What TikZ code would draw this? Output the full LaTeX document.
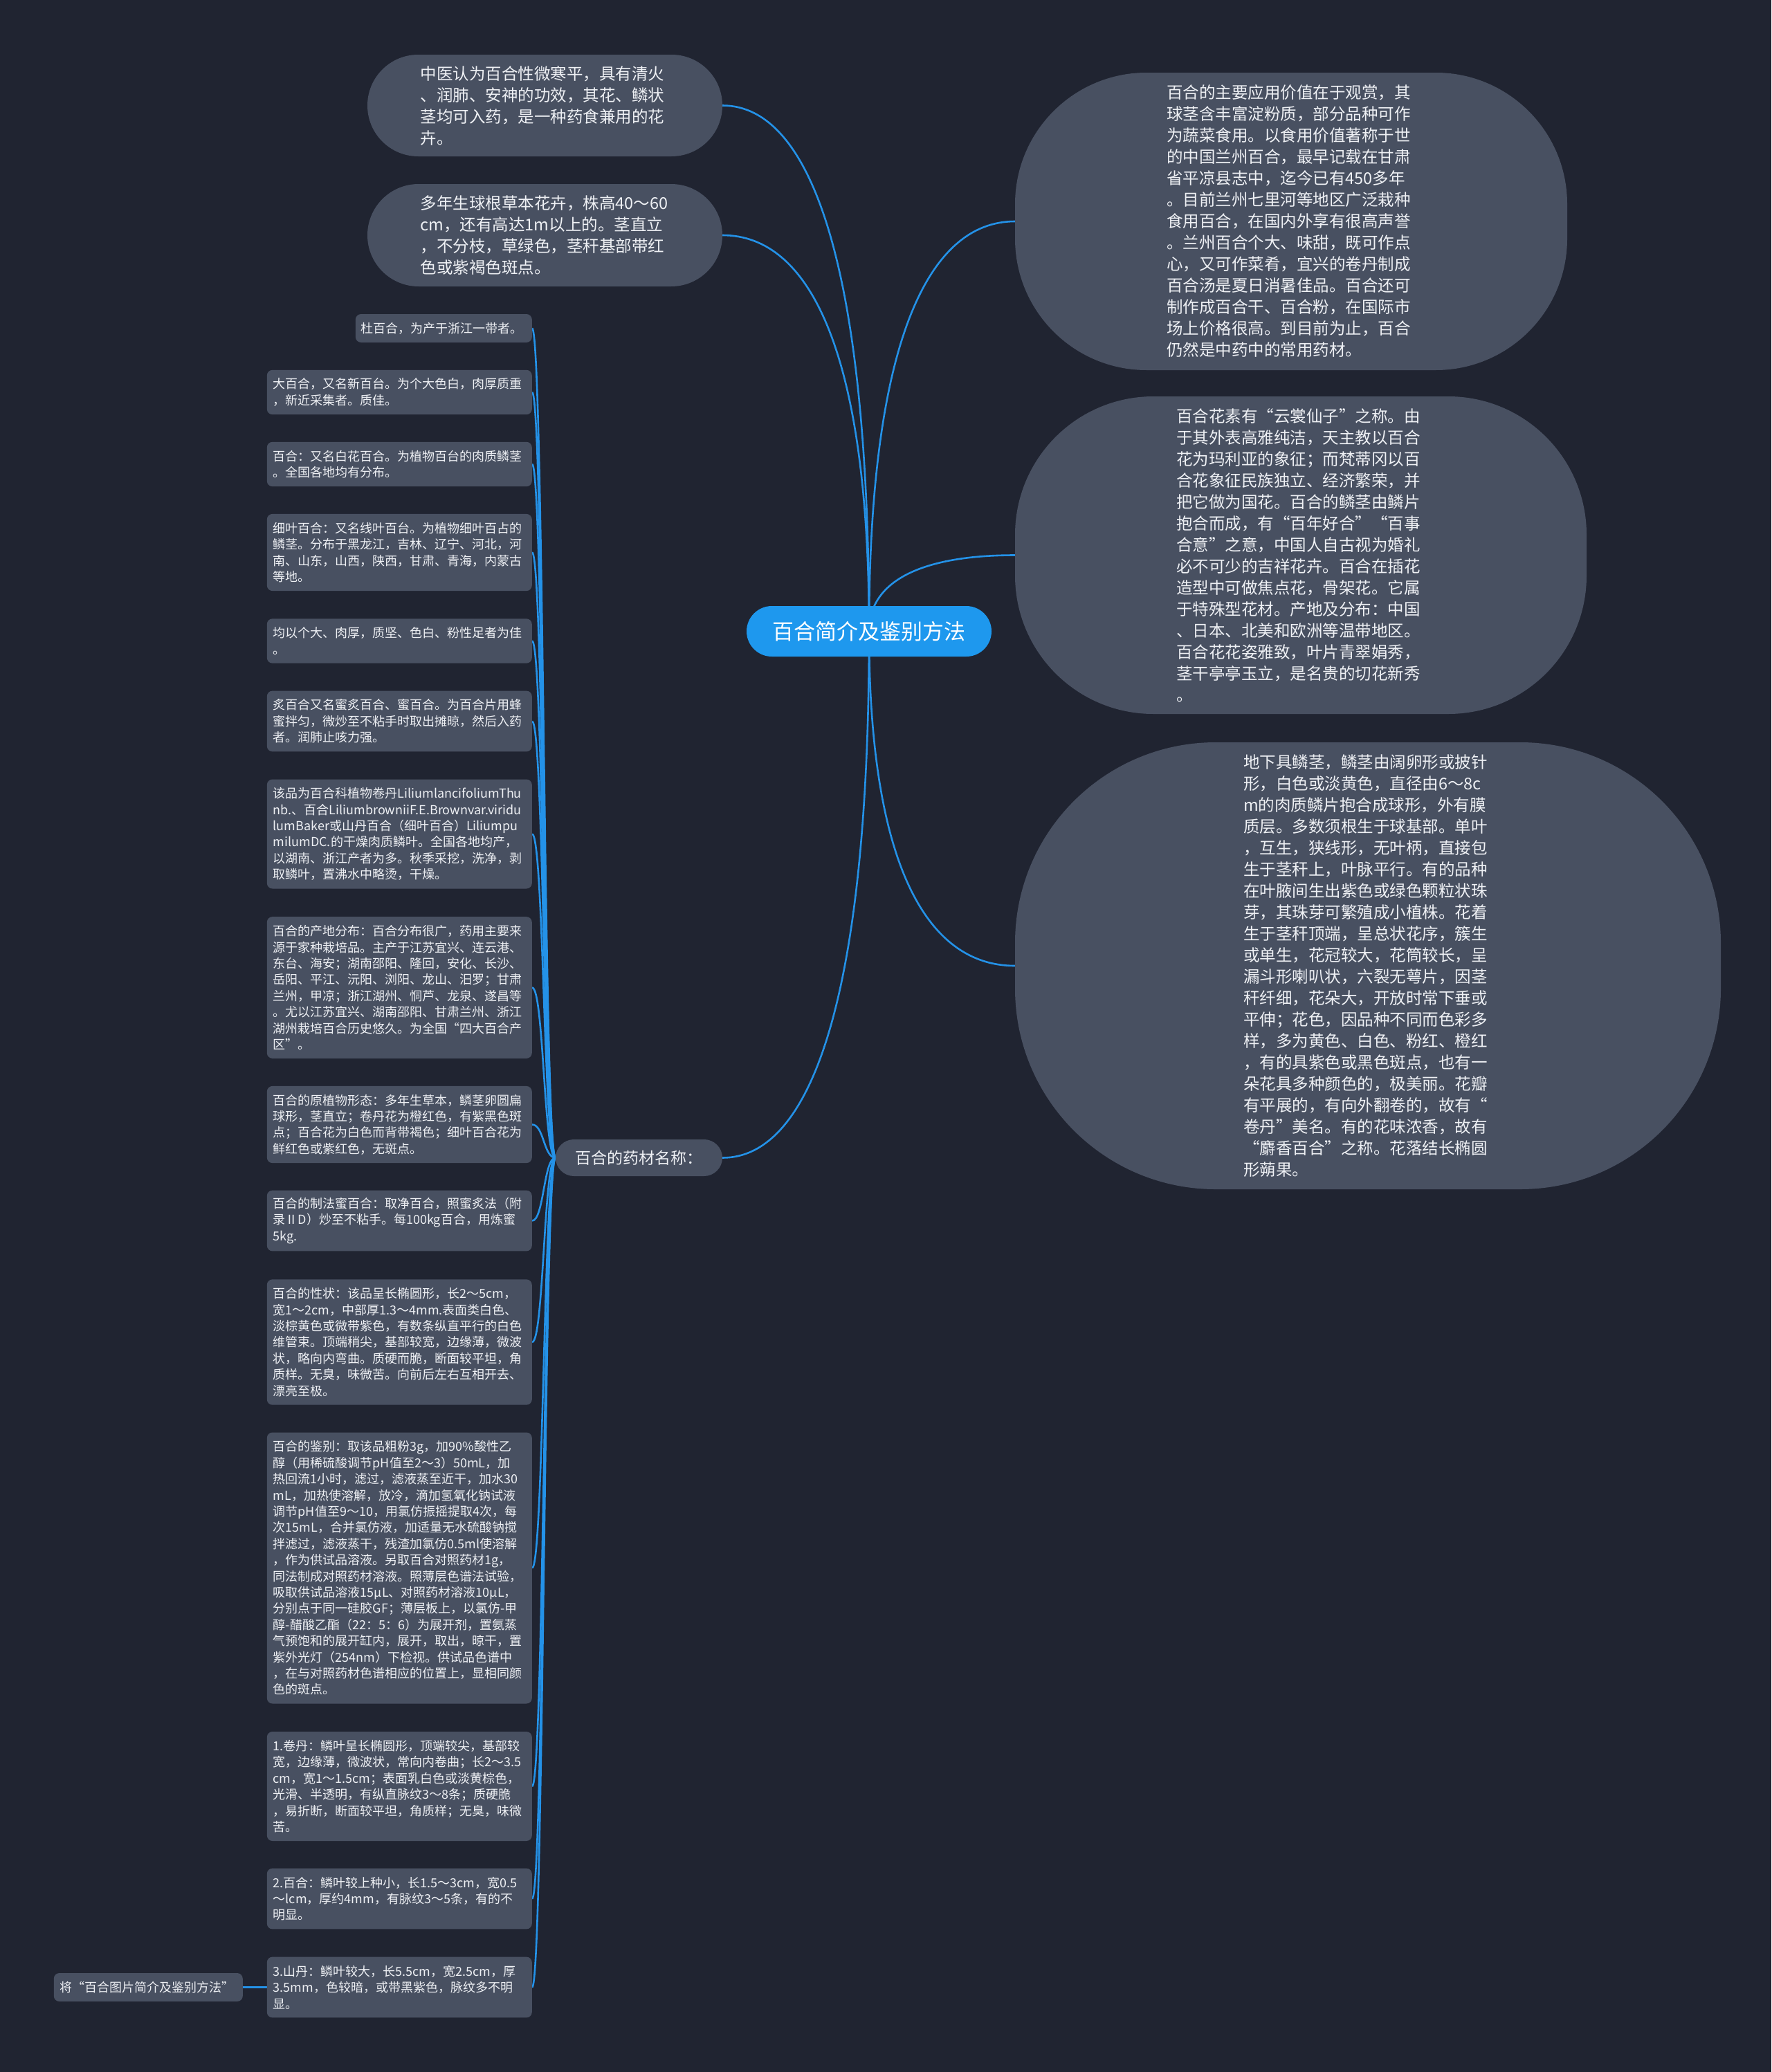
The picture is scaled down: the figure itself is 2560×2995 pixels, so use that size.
\documentclass[tikz,border=0pt]{standalone}
\usepackage{fontspec}
\newfontfamily\cjk{Noto Sans CJK SC}
\usetikzlibrary{calc,backgrounds,shapes.misc}
\definecolor{bgcol}{RGB}{32,36,49}
\definecolor{nodecol}{RGB}{72,80,97}
\definecolor{linecol}{RGB}{36,146,232}
\definecolor{rootcol}{RGB}{30,152,238}
\definecolor{txtcol}{RGB}{238,240,244}
\hyphenpenalty=10000
\exhyphenpenalty=10000

\begin{document}
\begin{tikzpicture}[x=1pt,y=-1pt,
  wire/.style={draw=linecol,line width=2.6pt},
  leaf/.style={fill=nodecol,rounded corners=8pt,text=txtcol,inner sep=0pt,align=left,anchor=east,
    minimum width=383pt,text width=365pt,
    font=\cjk\fontsize{18}{23.4}\selectfont},
  blob/.style={fill=nodecol,text=txtcol,inner sep=0pt,align=left,text width=360pt,
    font=\cjk\fontsize{23.5}{31}\selectfont},
  pill/.style={rounded rectangle,fill=nodecol,text=txtcol,inner sep=0pt,align=left,
    font=\cjk\fontsize{23.5}{31}\selectfont}]

% main topic
\node[rounded rectangle,fill=rootcol,text=white,inner sep=0pt,minimum width=354pt,minimum height=73pt,
  font=\cjk\fontsize{31}{38}\selectfont] (root) at (1256,912.5) {百合简介及鉴别方法};

% top left
\node[pill,text width=360pt,minimum width=513pt,minimum height=147pt] (l1) at (787.5,152.5)
  {中医认为百合性微寒平，具有清火\\、润肺、安神的功效，其花、鳞状\\茎均可入药，是一种药食兼用的花\\卉。};
\node[pill,text width=360pt,minimum width=513pt,minimum height=148pt] (l2) at (787.5,340)
  {多年生球根草本花卉，株高40～60\\cm，还有高达1m以上的。茎直立\\，不分枝，草绿色，茎秆基部带红\\色或紫褐色斑点。};

% right side
\node[blob,rounded corners=190pt,minimum width=798pt,minimum height=430pt] (r1) at (1866,320)
  {百合的主要应用价值在于观赏，其\\球茎含丰富淀粉质，部分品种可作\\为蔬菜食用。以食用价值著称于世\\的中国兰州百合，最早记载在甘肃\\省平凉县志中，迄今已有450多年\\。目前兰州七里河等地区广泛栽种\\食用百合，在国内外享有很高声誉\\。兰州百合个大、味甜，既可作点\\心，又可作菜肴，宜兴的卷丹制成\\百合汤是夏日消暑佳品。百合还可\\制作成百合干、百合粉，在国际市\\场上价格很高。到目前为止，百合\\仍然是中药中的常用药材。};
\node[blob,rounded corners=200pt,minimum width=826pt,minimum height=459pt] (r2) at (1880,802.5)
  {百合花素有“云裳仙子”之称。由\\于其外表高雅纯洁，天主教以百合\\花为玛利亚的象征；而梵蒂冈以百\\合花象征民族独立、经济繁荣，并\\把它做为国花。百合的鳞茎由鳞片\\抱合而成，有“百年好合”“百事\\合意”之意，中国人自古视为婚礼\\必不可少的吉祥花卉。百合在插花\\造型中可做焦点花，骨架花。它属\\于特殊型花材。产地及分布：中国\\、日本、北美和欧洲等温带地区。\\百合花花姿雅致，叶片青翠娟秀，\\茎干亭亭玉立，是名贵的切花新秀\\。};
\node[blob,rounded corners=290pt,minimum width=1020pt,minimum height=646pt] (r3) at (1977,1396)
  {地下具鳞茎，鳞茎由阔卵形或披针\\形，白色或淡黄色，直径由6～8c\\m的肉质鳞片抱合成球形，外有膜\\质层。多数须根生于球基部。单叶\\，互生，狭线形，无叶柄，直接包\\生于茎秆上，叶脉平行。有的品种\\在叶腋间生出紫色或绿色颗粒状珠\\芽，其珠芽可繁殖成小植株。花着\\生于茎秆顶端，呈总状花序，簇生\\或单生，花冠较大，花筒较长，呈\\漏斗形喇叭状，六裂无萼片，因茎\\秆纤细，花朵大，开放时常下垂或\\平伸；花色，因品种不同而色彩多\\样，多为黄色、白色、粉红、橙红\\，有的具紫色或黑色斑点，也有一\\朵花具多种颜色的，极美丽。花瓣\\有平展的，有向外翻卷的，故有“\\卷丹”美名。有的花味浓香，故有\\“麝香百合”之称。花落结长椭圆\\形蒴果。};

% medicinal names
\node[pill,minimum width=241pt,minimum height=53pt,font=\cjk\fontsize{23}{28}\selectfont] (med) at (923.5,1673.5) {百合的药材名称：};

\node[leaf,minimum width=255pt,text width=239pt,minimum height=41pt] (b1) at (769,474.5)
  {杜百合，为产于浙江一带者。};
\node[leaf,minimum height=64.4pt] (b2) at (769,567)
  {大百合，又名新百台。为个大色白，肉厚质重\\，新近采集者。质佳。};
\node[leaf,minimum height=64.4pt] (b3) at (769,671)
  {百合：又名白花百合。为植物百台的肉质鳞茎\\。全国各地均有分布。};
\node[leaf,minimum height=111.2pt] (b4) at (769,798.5)
  {细叶百合：又名线叶百台。为植物细叶百占的\\鳞茎。分布于黑龙江，吉林、辽宁、河北，河\\南、山东，山西，陕西，甘肃、青海，内蒙古\\等地。};
\node[leaf,minimum height=64.4pt] (b5) at (769,926.5)
  {均以个大、肉厚，质坚、色白、粉性足者为佳\\。};
\node[leaf,minimum height=87.8pt] (b6) at (769,1042.5)
  {炙百合又名蜜炙百合、蜜百合。为百合片用蜂\\蜜拌匀，微炒至不粘手时取出摊晾，然后入药\\者。润肺止咳力强。};
\node[leaf,minimum height=158pt] (b7) at (769,1205.5)
  {该品为百合科植物卷丹LiliumlancifoliumThu\\nb.、百合LiliumbrowniiF.E.Brownvar.viridu\\lumBaker或山丹百合（细叶百合）Liliumpu\\milumDC.的干燥肉质鳞叶。全国各地均产，\\以湖南、浙江产者为多。秋季采挖，洗净，剥\\取鳞叶，置沸水中略烫，干燥。};
\node[leaf,minimum height=204.8pt] (b8) at (769,1427.5)
  {百合的产地分布：百合分布很广，药用主要来\\源于家种栽培品。主产于江苏宜兴、连云港、\\东台、海安；湖南邵阳、隆回，安化、长沙、\\岳阳、平江、沅阳、浏阳、龙山、汨罗；甘肃\\兰州，甲凉；浙江湖州、恫芦、龙泉、遂昌等\\。尤以江苏宜兴、湖南邵阳、甘肃兰州、浙江\\湖州栽培百合历史悠久。为全国“四大百合产\\区”。};
\node[leaf,minimum height=111.2pt] (b9) at (769,1625.5)
  {百合的原植物形态：多年生草本，鳞茎卵圆扁\\球形，茎直立；卷丹花为橙红色，有紫黑色斑\\点；百合花为白色而背带褐色；细叶百合花为\\鲜红色或紫红色，无斑点。};
\node[leaf,minimum height=87.8pt] (b10) at (769,1764.5)
  {百合的制法蜜百合：取净百合，照蜜炙法（附\\录ⅡD）炒至不粘手。每100kg百合，用炼蜜\\5kg.};
\node[leaf,minimum height=181.4pt] (b11) at (769,1940)
  {百合的性状：该品呈长椭圆形，长2～5cm，\\宽1～2cm，中部厚1.3～4mm.表面类白色、\\淡棕黄色或微带紫色，有数条纵直平行的白色\\维管束。顶端稍尖，基部较宽，边缘薄，微波\\状，略向内弯曲。质硬而脆，断面较平坦，角\\质样。无臭，味微苦。向前后左右互相开去、\\漂亮至极。};
\node[leaf,minimum height=392pt] (b12) at (769,2266.5)
  {百合的鉴别：取该品粗粉3g，加90\%酸性乙\\醇（用稀硫酸调节pH值至2～3）50mL，加\\热回流1小时，滤过，滤液蒸至近干，加水30\\mL，加热使溶解，放冷，滴加氢氧化钠试液\\调节pH值至9～10，用氯仿振摇提取4次，每\\次15mL，合并氯仿液，加适量无水硫酸钠搅\\拌滤过，滤液蒸干，残渣加氯仿0.5ml使溶解\\，作为供试品溶液。另取百合对照药材1g，\\同法制成对照药材溶液。照薄层色谱法试验，\\吸取供试品溶液15μL、对照药材溶液10μL，\\分别点于同一硅胶GF；薄层板上，以氯仿-甲\\醇-醋酸乙酯（22：5：6）为展开剂，置氨蒸\\气预饱和的展开缸内，展开，取出，晾干，置\\紫外光灯（254nm）下检视。供试品色谱中\\，在与对照药材色谱相应的位置上，显相同颜\\色的斑点。};
\node[leaf,minimum height=158pt] (b13) at (769,2582)
  {1.卷丹：鳞叶呈长椭圆形，顶端较尖，基部较\\宽，边缘薄，微波状，常向内卷曲；长2～3.5\\cm，宽1～1.5cm；表面乳白色或淡黄棕色，\\光滑、半透明，有纵直脉纹3～8条；质硬脆\\，易折断，断面较平坦，角质样；无臭，味微\\苦。};
\node[leaf,minimum height=87.8pt] (b14) at (769,2744.5)
  {2.百合：鳞叶较上种小，长1.5～3cm，宽0.5\\～lcm，厚约4mm，有脉纹3～5条，有的不\\明显。};
\node[leaf,minimum height=87.8pt] (b15) at (769,2872.5)
  {3.山丹：鳞叶较大，长5.5cm，宽2.5cm，厚\\3.5mm，色较暗，或带黑紫色，脉纹多不明\\显。};
\node[leaf,minimum width=273pt,text width=255pt,minimum height=41pt] (b16) at (351,2872.5)
  {将“百合图片简介及鉴别方法”};

% connectors
\begin{scope}[on background layer]
\fill[bgcol] (0,0) rectangle (2560,2995);
\foreach \n/\a in {l1/east,l2/east,med/east,r1/west,r2/west,r3/west}
  \draw[wire] (root.center) .. controls ($(root.center)!.7!(root.center|-\n.\a)$)
    and ($(\n.\a)!.6!(root.center|-\n.\a)$) .. (\n.\a);
\foreach \i in {1,...,15}
  \draw[wire] (med.west) .. controls +(-17,0) and +(17,0) .. (b\i.east);
\draw[wire] (b15.west) -- (b16.east);
\end{scope}
\end{tikzpicture}
\end{document}
